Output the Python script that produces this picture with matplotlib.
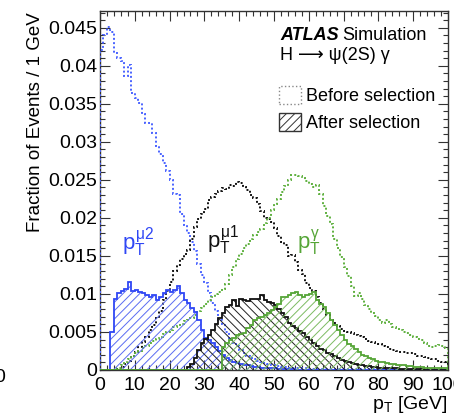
import numpy as np
import matplotlib
matplotlib.use('Agg')
import matplotlib.pyplot as plt
from matplotlib.patches import Patch
from matplotlib.ticker import MultipleLocator, FuncFormatter

# 1 GeV bins, 0..100 GeV
bin_edges = np.arange(0, 101)

mu2_before = [
	0.0421, 0.0441, 0.0451, 0.0444, 0.0417, 0.0410, 0.0406, 0.0386, 0.0401, 0.0364,
	0.0357, 0.0351, 0.0336, 0.0325, 0.0325, 0.0311, 0.0294, 0.0284, 0.0272, 0.0262,
	0.0250, 0.0231, 0.0230, 0.0205, 0.0190, 0.0180, 0.0168, 0.0157, 0.0140, 0.0125,
	0.0115, 0.0101, 0.0088, 0.0077, 0.0066, 0.0060, 0.0050, 0.0042, 0.0036, 0.0031,
	0.0026, 0.0022, 0.0019, 0.0016, 0.0014, 0.0012, 0.0010, 0.0009, 0.0008, 0.0007,
	0.0006, 0.0005, 0.0004, 0.0004, 0.0003, 0.0003, 0.0002, 0.0002, 0.0002, 0.0002,
	0.0001, 0.0001, 0.0001, 0.0001, 0.0001, 0.0001, 0.0001, 0.0001, 0.0001, 0.0001,
	0.0001, 0.0001, 0.0001, 0.0001, 0.0001, 0.0001, 0.0001, 0.0001, 0.0001, 0.0001,
	0.0, 0.0, 0.0, 0.0, 0.0, 0.0, 0.0, 0.0, 0.0, 0.0,
	0.0, 0.0, 0.0, 0.0, 0.0, 0.0, 0.0, 0.0, 0.0, 0.0,
]
mu2_after = [
	0.0, 0.0, 0.0, 0.0050, 0.0093, 0.0101, 0.0104, 0.0106, 0.0116, 0.0104,
	0.0105, 0.0103, 0.0101, 0.0099, 0.0096, 0.0099, 0.0092, 0.0096, 0.0101, 0.0105,
	0.0103, 0.0105, 0.0110, 0.0101, 0.0092, 0.0088, 0.0081, 0.0076, 0.0066, 0.0052,
	0.0042, 0.0040, 0.0036, 0.0030, 0.0025, 0.0020, 0.0016, 0.0013, 0.0011, 0.0009,
	0.0008, 0.0007, 0.0006, 0.0005, 0.0004, 0.0004, 0.0003, 0.0003, 0.0002, 0.0002,
	0.0002, 0.0001, 0.0001, 0.0001, 0.0001, 0.0001, 0.0, 0.0, 0.0, 0.0,
	0.0, 0.0, 0.0, 0.0, 0.0, 0.0, 0.0, 0.0, 0.0, 0.0,
	0.0, 0.0, 0.0, 0.0, 0.0, 0.0, 0.0, 0.0, 0.0, 0.0,
	0.0, 0.0, 0.0, 0.0, 0.0, 0.0, 0.0, 0.0, 0.0, 0.0,
	0.0, 0.0, 0.0, 0.0, 0.0, 0.0, 0.0, 0.0, 0.0, 0.0,
]
mu1_before = [
	0.0, 0.0, 0.0, 0.0, 0.0, 0.0001, 0.0004, 0.0008, 0.0012, 0.0018,
	0.0024, 0.0030, 0.0037, 0.0044, 0.0052, 0.0059, 0.0068, 0.0078, 0.0092, 0.0104,
	0.0116, 0.0130, 0.0138, 0.0146, 0.0152, 0.0158, 0.0172, 0.0188, 0.0198, 0.0205,
	0.0212, 0.0224, 0.0228, 0.0231, 0.0235, 0.0239, 0.0238, 0.0243, 0.0242, 0.0247,
	0.0246, 0.0240, 0.0237, 0.0230, 0.0226, 0.0218, 0.0209, 0.0200, 0.0198, 0.0194,
	0.0187, 0.0176, 0.0168, 0.0165, 0.0150, 0.0151, 0.0142, 0.0131, 0.0126, 0.0114,
	0.0108, 0.0104, 0.0096, 0.0088, 0.0080, 0.0072, 0.0066, 0.0062, 0.0058, 0.0054,
	0.0051, 0.0050, 0.0048, 0.0046, 0.0045, 0.0044, 0.0041, 0.0038, 0.0037, 0.0036,
	0.0034, 0.0032, 0.0030, 0.0027, 0.0026, 0.0025, 0.0024, 0.0024, 0.0023, 0.0022,
	0.0021, 0.0019, 0.0018, 0.0017, 0.0016, 0.0015, 0.0014, 0.0012, 0.0011, 0.0010,
]
mu1_after = [
	0.0, 0.0, 0.0, 0.0, 0.0, 0.0, 0.0, 0.0, 0.0, 0.0,
	0.0, 0.0, 0.0, 0.0, 0.0, 0.0, 0.0, 0.0, 0.0, 0.0,
	0.0, 0.0, 0.0, 0.0, 0.0, 0.0004, 0.0008, 0.0016, 0.0026, 0.0035,
	0.0041, 0.0046, 0.0052, 0.0060, 0.0068, 0.0075, 0.0083, 0.0086, 0.0092, 0.0084,
	0.0094, 0.0092, 0.0091, 0.0094, 0.0094, 0.0094, 0.0098, 0.0092, 0.0090, 0.0088,
	0.0085, 0.0080, 0.0075, 0.0070, 0.0062, 0.0058, 0.0055, 0.0051, 0.0048, 0.0043,
	0.0039, 0.0035, 0.0032, 0.0028, 0.0026, 0.0023, 0.0021, 0.0018, 0.0016, 0.0013,
	0.0012, 0.0010, 0.0009, 0.0008, 0.0007, 0.0006, 0.0005, 0.0005, 0.0004, 0.0004,
	0.0003, 0.0003, 0.0003, 0.0002, 0.0002, 0.0002, 0.0001, 0.0001, 0.0001, 0.0001,
	0.0001, 0.0001, 0.0001, 0.0, 0.0, 0.0, 0.0, 0.0, 0.0, 0.0,
]
gamma_before = [
	0.0, 0.0, 0.0, 0.0, 0.0, 0.0002, 0.0006, 0.0010, 0.0014, 0.0018,
	0.0022, 0.0025, 0.0029, 0.0032, 0.0035, 0.0038, 0.0041, 0.0044, 0.0047, 0.0050,
	0.0053, 0.0056, 0.0058, 0.0061, 0.0064, 0.0066, 0.0069, 0.0072, 0.0077, 0.0082,
	0.0087, 0.0092, 0.0096, 0.0100, 0.0103, 0.0106, 0.0113, 0.0125, 0.0136, 0.0146,
	0.0152, 0.0160, 0.0166, 0.0172, 0.0178, 0.0182, 0.0186, 0.0193, 0.0200, 0.0210,
	0.0218, 0.0225, 0.0234, 0.0242, 0.0250, 0.0256, 0.0257, 0.0255, 0.0253, 0.0249,
	0.0245, 0.0240, 0.0243, 0.0231, 0.0216, 0.0202, 0.0192, 0.0172, 0.0160, 0.0148,
	0.0135, 0.0124, 0.0110, 0.0097, 0.0101, 0.0093, 0.0086, 0.0080, 0.0075, 0.0071,
	0.0066, 0.0062, 0.0066, 0.0060, 0.0057, 0.0055, 0.0053, 0.0050, 0.0048, 0.0046,
	0.0044, 0.0041, 0.0039, 0.0036, 0.0032, 0.0030, 0.0031, 0.0033, 0.0031, 0.0029,
]
gamma_after = [
	0.0, 0.0, 0.0, 0.0, 0.0, 0.0, 0.0, 0.0, 0.0, 0.0,
	0.0, 0.0, 0.0, 0.0, 0.0, 0.0, 0.0, 0.0, 0.0, 0.0,
	0.0, 0.0, 0.0, 0.0, 0.0, 0.0, 0.0, 0.0, 0.0, 0.0,
	0.0, 0.0, 0.0, 0.0, 0.0, 0.0030, 0.0035, 0.0039, 0.0042, 0.0046,
	0.0047, 0.0048, 0.0055, 0.0059, 0.0066, 0.0068, 0.0070, 0.0072, 0.0075, 0.0079,
	0.0083, 0.0087, 0.0096, 0.0096, 0.0098, 0.0101, 0.0103, 0.0098, 0.0096, 0.0098,
	0.0100, 0.0103, 0.0092, 0.0087, 0.0083, 0.0075, 0.0066, 0.0059, 0.0053, 0.0046,
	0.0040, 0.0034, 0.0031, 0.0027, 0.0024, 0.0020, 0.0018, 0.0016, 0.0014, 0.0012,
	0.0011, 0.0010, 0.0009, 0.0008, 0.0008, 0.0007, 0.0006, 0.0006, 0.0005, 0.0005,
	0.0004, 0.0004, 0.0004, 0.0003, 0.0003, 0.0003, 0.0003, 0.0002, 0.0002, 0.0002,
]

BLUE = '#2f47f5'
BLACK = '#111111'
GREEN = '#55a537'


def px(x, y):
	# pixel position (from top-left) -> figure fraction
	return x / 454.0, 1.0 - y / 417.0


def draw_hist(ax, values, color, hatch=None, hatch_color=None):
	if hatch is None:
		ax.stairs(values, bin_edges, baseline=0, color=color, lw=1.4,
			linestyle=(0, (1.0, 1.2)), zorder=3)
	else:
		ax.stairs(values, bin_edges, baseline=0, fill=True, facecolor='none',
			edgecolor=hatch_color, hatch=hatch, lw=0, zorder=3)
		ax.stairs(values, bin_edges, baseline=0, color=color, lw=1.3, zorder=3)


def main():
	plt.rcParams['font.family'] = ['Liberation Sans', 'DejaVu Sans']
	plt.rcParams['mathtext.fontset'] = 'custom'
	plt.rcParams['mathtext.rm'] = 'Liberation Sans'
	plt.rcParams['mathtext.it'] = 'Liberation Sans'
	plt.rcParams['mathtext.bf'] = 'Liberation Sans:bold'
	plt.rcParams['hatch.linewidth'] = 0.7

	fig = plt.figure(figsize=(4.54, 4.17), dpi=100)
	ax = fig.add_axes([100 / 454, 47 / 417, 348 / 454, 359 / 417])

	draw_hist(ax, mu2_before, '#4a63ff')
	draw_hist(ax, mu1_before, BLACK)
	draw_hist(ax, gamma_before, '#5fb03f')
	draw_hist(ax, mu2_after, BLUE, '////', '#5a6cf2')
	draw_hist(ax, mu1_after, BLACK, '\\\\\\\\', '#222222')
	draw_hist(ax, gamma_after, GREEN, '////', '#7dbb62')

	ax.set_xlim(0, 100)
	ax.set_ylim(0, 0.0472)
	ax.xaxis.set_major_locator(MultipleLocator(10))
	ax.xaxis.set_minor_locator(MultipleLocator(2))
	ax.yaxis.set_major_locator(MultipleLocator(0.005))
	ax.yaxis.set_minor_locator(MultipleLocator(0.001))
	ax.yaxis.set_major_formatter(FuncFormatter(lambda v, p: '%g' % round(v, 4)))
	ax.tick_params(which='both', direction='in', top=True, right=True,
		width=0.8, labelsize=14, color='#333333')
	ax.tick_params(which='major', length=7.5)
	ax.tick_params(which='minor', length=3.8)
	ax.tick_params(axis='x', pad=5)
	ax.tick_params(axis='y', pad=2)
	for s in ax.spines.values():
		s.set_linewidth(1.0)
		s.set_color('#333333')

	fig.text(*px(36, 12), 'Fraction of Events / 1 GeV', rotation=90,
		ha='center', va='top', fontsize=13.5)
	fig.text(*px(448, 409), r'p$_{\mathrm{T}}$ [GeV]', ha='right',
		va='baseline', fontsize=14)
	fig.text(*px(0, 377), '0', ha='center', va='center', fontsize=14)

	fig.text(*px(280, 40), 'ATLAS', fontsize=13, weight='bold', style='italic')
	fig.text(*px(342, 40), 'Simulation', fontsize=13)
	fig.text(*px(280, 60), 'H \u27f6 \u03c8(2S) \u03b3', fontsize=13)

	fig.text(*px(122, 251), r'$p_{T}^{\mu2}$', color=BLUE, fontsize=16)
	fig.text(*px(207, 249), r'$p_{T}^{\mu1}$', color=BLACK, fontsize=16)
	fig.text(*px(297, 249), r'$p_{T}^{\gamma}$', color=GREEN, fontsize=16)

	handles = [
		Patch(facecolor='none', edgecolor='#888888', linestyle=':', lw=1.0,
			label='Before selection'),
		Patch(facecolor='none', edgecolor='#333333', hatch='////', lw=1.0,
			label='After selection'),
	]
	ax.legend(handles=handles, loc='upper left', bbox_to_anchor=px(279, 86),
		bbox_transform=fig.transFigure, frameon=False, fontsize=13,
		handlelength=1.22, handleheight=1.17, handletextpad=0.25,
		labelspacing=0.45, borderpad=0, borderaxespad=0)

	fig.savefig('out.png', dpi=100)


if __name__ == '__main__':
	main()
